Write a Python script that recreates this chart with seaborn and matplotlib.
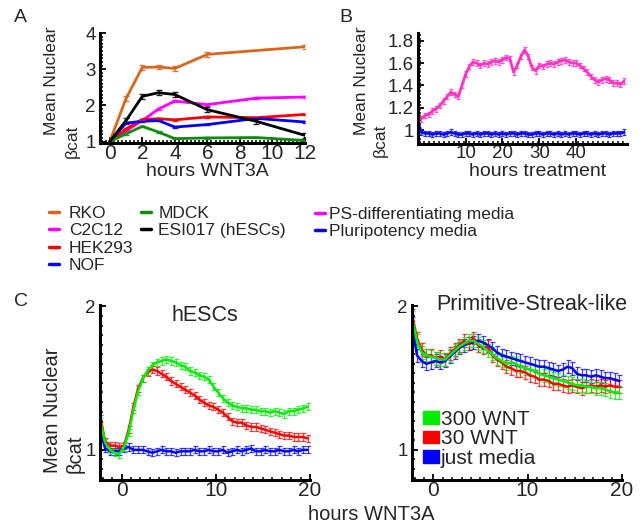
import numpy as np
import pandas as pd
import matplotlib
matplotlib.use("Agg")
import matplotlib.pyplot as plt
import seaborn as sns
from matplotlib.ticker import MultipleLocator, FixedLocator
from matplotlib.lines import Line2D
from matplotlib.patches import Patch

# ---------------- data: panel A ----------------
hours_a = [0, 1, 2, 3, 4, 6, 9, 12]
rko_hours = [0, 1, 2, 3, 4, 6, 12]
rko = [1.0, 2.19, 3.05, 3.06, 3.02, 3.41, 3.62]
c2c12_hours = [0, 2, 3, 4, 6, 9, 12]
c2c12 = [1.0, 1.58, 1.90, 2.12, 2.02, 2.20, 2.23]
hek293 = [1.0, 1.35, 1.61, 1.63, 1.60, 1.68, 1.66, 1.75]
nof = [1.0, 1.51, 1.56, 1.58, 1.40, 1.47, 1.64, 1.54]
mdck = [1.0, 1.21, 1.42, 1.26, 1.08, 1.10, 1.11, 1.03]
esi017 = [1.0, 1.58, 2.25, 2.35, 2.30, 1.88, 1.56, 1.17]
err_a = {"RKO": 0.06, "C2C12": 0.025, "HEK293": 0.02, "NOF": 0.02,
         "MDCK": 0.02, "ESI017 (hESCs)": 0.07}

# ---------------- data: panel B (hourly, starting at -3 h) ----------------
ps_media = [1.12, 1.10, 1.13, 1.14, 1.17, 1.19, 1.22, 1.26, 1.30, 1.34, 1.32, 1.30,
            1.40, 1.50, 1.57, 1.61, 1.60, 1.58, 1.60, 1.59, 1.61, 1.62, 1.61, 1.63,
            1.65, 1.64, 1.52, 1.58, 1.66, 1.72, 1.66, 1.56, 1.53, 1.58, 1.57, 1.59,
            1.60, 1.59, 1.61, 1.62, 1.63, 1.61, 1.60, 1.60, 1.58, 1.55, 1.52, 1.48,
            1.45, 1.43, 1.45, 1.46, 1.45, 1.42, 1.42, 1.41, 1.44]
pluri_media = [1.08, 0.98, 0.97, 0.97, 0.96, 0.97, 0.97, 0.96, 0.97, 0.98, 0.97, 0.96,
               0.96, 0.97, 0.97, 0.96, 0.97, 0.96, 0.97, 0.97, 0.96, 0.97, 0.96, 0.97,
               0.96, 0.97, 0.97, 0.96, 0.97, 0.97, 0.96, 0.96, 0.97, 0.97, 0.96, 0.97,
               0.97, 0.96, 0.97, 0.96, 0.97, 0.96, 0.97, 0.97, 0.96, 0.97, 0.97, 0.96,
               0.97, 0.96, 0.97, 0.97, 0.96, 0.97, 0.97, 0.97, 0.98]
b_start = -3.0

# ---------------- data: panel C (every 0.5 h from -2.25 h) ----------------
c_start = -2.25
hesc_300 = [1.20, 1.05, 1.00, 0.98, 0.97, 1.02, 1.12, 1.28, 1.41, 1.50, 1.55, 1.59,
            1.61, 1.62, 1.63, 1.62, 1.61, 1.59, 1.58, 1.55, 1.54, 1.52, 1.51, 1.49,
            1.44, 1.40, 1.36, 1.33, 1.31, 1.30, 1.29, 1.29, 1.28, 1.28, 1.27, 1.27,
            1.26, 1.27, 1.26, 1.25, 1.27, 1.27, 1.28, 1.29, 1.30]
hesc_30 = [1.22, 1.06, 1.03, 1.03, 1.02, 1.03, 1.14, 1.30, 1.43, 1.50, 1.54, 1.56,
           1.55, 1.53, 1.51, 1.48, 1.46, 1.44, 1.42, 1.40, 1.38, 1.35, 1.33, 1.31,
           1.30, 1.28, 1.26, 1.23, 1.20, 1.19, 1.19, 1.17, 1.16, 1.16, 1.15, 1.14,
           1.13, 1.12, 1.11, 1.10, 1.10, 1.09, 1.09, 1.09, 1.08]
hesc_media = [1.12, 1.01, 0.99, 0.99, 0.99, 1.01, 1.02, 1.00, 1.00, 1.00, 0.99, 0.98,
              0.99, 1.00, 0.99, 0.99, 0.98, 0.99, 0.99, 0.99, 1.00, 0.99, 0.99, 1.00,
              0.99, 0.99, 1.00, 0.98, 0.99, 1.00, 0.99, 1.00, 1.01, 0.99, 0.99, 1.00,
              0.99, 0.99, 1.00, 0.99, 0.99, 1.00, 0.99, 1.00, 1.00]
ps_300 = [1.92, 1.76, 1.68, 1.66, 1.65, 1.64, 1.63, 1.63, 1.66, 1.69, 1.72, 1.74,
          1.76, 1.76, 1.74, 1.72, 1.69, 1.67, 1.64, 1.62, 1.60, 1.61, 1.60, 1.58,
          1.57, 1.56, 1.55, 1.53, 1.52, 1.51, 1.50, 1.49, 1.48, 1.47, 1.46, 1.45,
          1.45, 1.44, 1.44, 1.43, 1.43, 1.42, 1.41, 1.40, 1.40]
ps_30 = [1.94, 1.78, 1.70, 1.66, 1.66, 1.64, 1.65, 1.63, 1.67, 1.70, 1.73, 1.76,
         1.74, 1.78, 1.73, 1.71, 1.72, 1.66, 1.63, 1.61, 1.58, 1.57, 1.55, 1.55,
         1.54, 1.52, 1.51, 1.49, 1.49, 1.48, 1.46, 1.46, 1.45, 1.44, 1.45, 1.44,
         1.43, 1.44, 1.45, 1.44, 1.45, 1.44, 1.45, 1.44, 1.44]
ps_media_c = [1.88, 1.66, 1.62, 1.60, 1.61, 1.62, 1.61, 1.62, 1.65, 1.68, 1.71, 1.73,
              1.74, 1.75, 1.76, 1.75, 1.73, 1.71, 1.68, 1.66, 1.65, 1.64, 1.63, 1.62,
              1.61, 1.60, 1.59, 1.58, 1.58, 1.57, 1.56, 1.55, 1.56, 1.58, 1.57, 1.53,
              1.52, 1.52, 1.51, 1.52, 1.51, 1.50, 1.50, 1.49, 1.48]

# ---------------- styling ----------------
W, H = 642, 524
sns.set_theme(style="ticks")
plt.rcParams["font.family"] = ["Liberation Sans", "DejaVu Sans"]

fig = plt.figure(figsize=(W / 100, H / 100), dpi=100)


def fx(px):
    return px / W


def fy(py):
    return 1 - py / H


def make_ax(left, top, right, bottom):
    return fig.add_axes([fx(left), fy(bottom), (right - left) / W, (bottom - top) / H])


def style_ax(ax, xt_size, yt_size):
    sns.despine(ax=ax)
    for s in ("left", "bottom"):
        ax.spines[s].set_linewidth(2.2)
        ax.spines[s].set_color("black")
    ax.tick_params(which="major", direction="in", length=4, width=1.3, color="black")
    ax.tick_params(which="minor", direction="in", length=2.5, width=1.1, color="black")
    ax.tick_params(axis="x", labelsize=xt_size, pad=1)
    ax.tick_params(axis="y", labelsize=yt_size, pad=3)
    ax.set_xlabel("")
    ax.set_ylabel("")
    ax.set_facecolor("white")


COL = {"RKO": "#d7661e", "C2C12": "#ff00ff", "HEK293": "#ff0000", "NOF": "#0000ff",
       "MDCK": "#108a10", "ESI017 (hESCs)": "#000000"}

# ---------------- panel A ----------------
axA = make_ax(100, 33, 305, 143)
series_a = {
    "RKO": (rko_hours, rko),
    "C2C12": (c2c12_hours, c2c12),
    "HEK293": (hours_a, hek293),
    "NOF": (hours_a, nof),
    "MDCK": (hours_a, mdck),
    "ESI017 (hESCs)": (hours_a, esi017),
}
frames = []
for name, (hh, vv) in series_a.items():
    frames.append(pd.DataFrame({"hours": hh, "value": vv, "line": name}))
dfA = pd.concat(frames, ignore_index=True)
sns.lineplot(data=dfA, x="hours", y="value", hue="line", palette=COL, ax=axA,
             linewidth=2.0, legend=False, estimator=None, sort=True)
for name, (hh, vv) in series_a.items():
    axA.errorbar(hh[1:], vv[1:], yerr=err_a[name], fmt="none", ecolor=COL[name],
                 elinewidth=1.0, capsize=2, capthick=1.0, alpha=0.85)
axA.set_xlim(-0.6, 12)
axA.set_ylim(0.96, 4.0)
axA.xaxis.set_major_locator(FixedLocator([0, 2, 4, 6, 8, 10, 12]))
axA.yaxis.set_major_locator(FixedLocator([1, 2, 3, 4]))
axA.xaxis.set_minor_locator(MultipleLocator(0.25))
axA.yaxis.set_minor_locator(MultipleLocator(0.1))
style_ax(axA, 15, 13.5)

# ---------------- panel B ----------------
axB = make_ax(417.7, 33, 626.7, 144)
tb = b_start + np.arange(len(ps_media))
dfB = pd.DataFrame({"hours": np.concatenate([tb, tb]),
                    "value": ps_media + pluri_media,
                    "media": ["PS"] * len(tb) + ["Pluri"] * len(tb)})
colB = {"PS": "#ff33c4", "Pluri": "#0a0aee"}
axB.errorbar(tb, ps_media, yerr=0.025, fmt="none", ecolor=colB["PS"], elinewidth=0.9,
             capsize=1.6, capthick=0.9, alpha=0.8)
axB.errorbar(tb, pluri_media, yerr=0.025, fmt="none", ecolor=colB["Pluri"], elinewidth=0.9,
             capsize=1.6, capthick=0.9, alpha=0.8)
sns.lineplot(data=dfB, x="hours", y="value", hue="media", palette=colB, ax=axB,
             linewidth=2.0, legend=False, estimator=None)
axB.set_xlim(-3.0, 53.7)
axB.set_ylim(0.875, 1.87)
axB.xaxis.set_major_locator(FixedLocator([10, 20, 30, 40]))
axB.yaxis.set_major_locator(FixedLocator([1.0, 1.2, 1.4, 1.6, 1.8]))
axB.set_yticklabels(["1", "1.2", "1.4", "1.6", "1.8"])
axB.xaxis.set_minor_locator(MultipleLocator(1.35))
axB.yaxis.set_minor_locator(MultipleLocator(0.033))
style_ax(axB, 13.5, 13.5)

# ---------------- panel C ----------------
colC = {"300 WNT": "#00ee00", "30 WNT": "#ff0000", "just media": "#0000ff"}


def panel_c(ax, s300, s30, smedia, err):
    tc = c_start + 0.5 * np.arange(len(s300))
    df = pd.DataFrame({"hours": np.concatenate([tc, tc, tc]),
                       "value": smedia + s30 + s300,
                       "cond": ["just media"] * len(tc) + ["30 WNT"] * len(tc)
                       + ["300 WNT"] * len(tc)})
    for cond, vals in (("just media", smedia), ("30 WNT", s30), ("300 WNT", s300)):
        ax.errorbar(tc, vals, yerr=err, fmt="none", ecolor=colC[cond], elinewidth=0.9,
                    capsize=1.8, capthick=0.9, alpha=0.75)
    sns.lineplot(data=df, x="hours", y="value", hue="cond", palette=colC, ax=ax,
                 linewidth=1.8, legend=False, estimator=None,
                 hue_order=["just media", "30 WNT", "300 WNT"])
    ax.set_xlim(-2.3, 20)
    ax.set_ylim(0.79, 2.01)
    ax.xaxis.set_major_locator(FixedLocator([0, 10, 20]))
    ax.yaxis.set_major_locator(FixedLocator([1, 2]))
    ax.xaxis.set_minor_locator(MultipleLocator(1.0))
    ax.yaxis.set_minor_locator(MultipleLocator(1 / 15))
    style_ax(ax, 15, 13.5)


axC1 = make_ax(100, 305, 310, 480)
panel_c(axC1, hesc_300, hesc_30, hesc_media, 0.025)
axC2 = make_ax(411.7, 305, 621.7, 480)
panel_c(axC2, ps_300, ps_30, ps_media_c, 0.045)

axC1.text(0.5, 0.94, "hESCs", transform=axC1.transAxes, ha="center", va="center",
          fontsize=15.5)
fig.text(fx(532), fy(304), "Primitive-Streak-like", ha="center", va="center", fontsize=15.5)

# legend inside panel C right
handles_c = [Patch(facecolor=colC[k], edgecolor=colC[k]) for k in ("300 WNT", "30 WNT", "just media")]
axC2.legend(handles_c, ["300 WNT", "30 WNT", "just media"], loc="upper left",
            bbox_to_anchor=(fx(423), fy(410)), bbox_transform=fig.transFigure,
            frameon=False, fontsize=15, handlelength=0.75, handleheight=0.55,
            handletextpad=0.1, labelspacing=0.02, borderpad=0, borderaxespad=0)

# ---------------- middle legends ----------------
def leg_handles(names, cols):
    return [Line2D([0], [0], color=cols[n], lw=2.5) for n in names]


namesA1 = ["RKO", "C2C12", "HEK293", "NOF"]
namesA2 = ["MDCK", "ESI017 (hESCs)"]
legkw = dict(loc="upper left", frameon=False, fontsize=12.5, handlelength=0.6,
             handletextpad=0.55, labelspacing=0.12, borderpad=0, borderaxespad=0)
l1 = fig.legend(leg_handles(namesA1, COL), namesA1, bbox_to_anchor=(fx(49), fy(206)), **legkw)
legkw2 = dict(legkw)
legkw2["handletextpad"] = 0.4
l2 = fig.legend(leg_handles(namesA2, COL), namesA2, bbox_to_anchor=(fx(141), fy(206)), **legkw2)
legkw3 = dict(legkw)
legkw3["handletextpad"] = 0.2
l3 = fig.legend([Line2D([0], [0], color="#ff00ff", lw=2.5), Line2D([0], [0], color="#0000ff", lw=2.5)],
                ["PS-differentiating media", "Pluripotency media"],
                bbox_to_anchor=(fx(315), fy(207)), **legkw3)

# ---------------- axis labels & panel letters ----------------
fig.text(fx(207), fy(172), "hours WNT3A", ha="center", va="center", fontsize=14)
fig.text(fx(538), fy(172), "hours treatment", ha="center", va="center", fontsize=14)
fig.text(fx(371), fy(515), "hours WNT3A", ha="center", va="center", fontsize=14.5)

for (xm, ym, xb, yb, fs) in ((51, 81, 72, 141, 12.5), (361, 81, 380, 140, 12.5),
                             (52, 410, 75, 454, 14.5)):
    fig.text(fx(xm), fy(ym), "Mean Nuclear", rotation=90, ha="center", va="center",
             fontsize=fs)
    fig.text(fx(xb), fy(yb), "βcat", rotation=90, ha="center", va="center",
             fontsize=fs)

fig.text(fx(20), fy(18), "A", ha="center", va="center", fontsize=14)
fig.text(fx(346), fy(18), "B", ha="center", va="center", fontsize=14)
fig.text(fx(21), fy(302), "C", ha="center", va="center", fontsize=14)

fig.savefig("out.png", dpi=100, facecolor="white")
